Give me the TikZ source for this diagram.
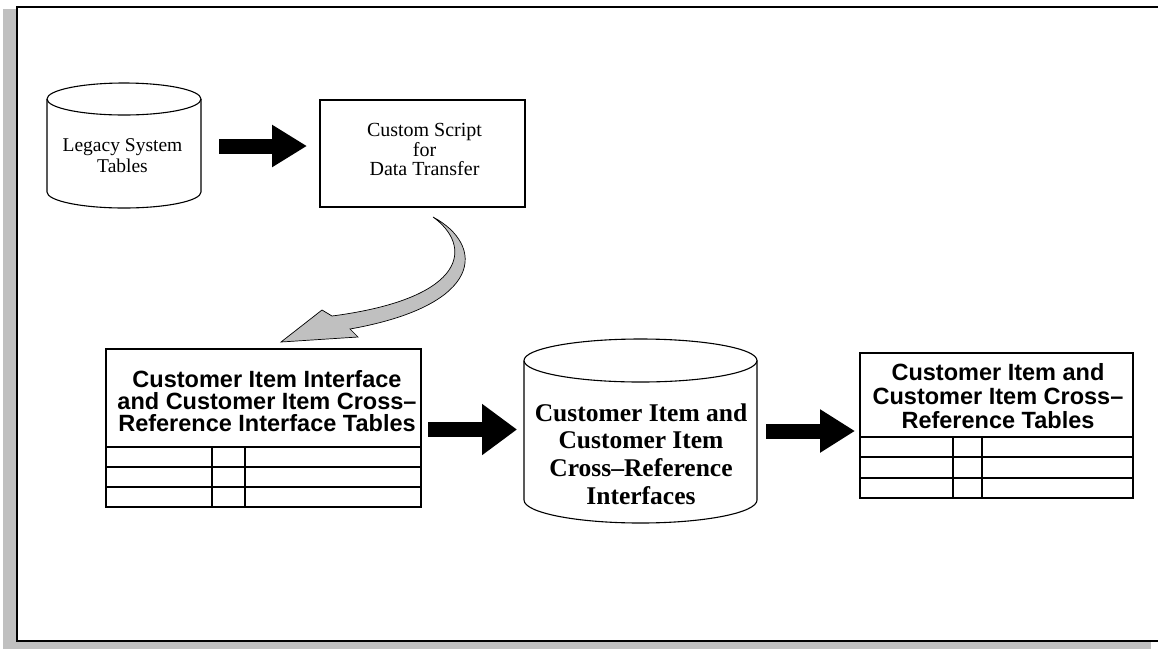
\documentclass[tikz,border=0pt]{standalone}
\usepackage{fontspec}
\setmainfont{Liberation Serif}
\setsansfont{Liberation Sans}
\usetikzlibrary{arrows.meta,calc}
\definecolor{shadowgray}{RGB}{192,192,192}
\begin{document}
\begin{tikzpicture}[x=1pt,y=-1pt,
  blockarrow/.style={line width=15pt,-{Triangle[length=35pt,width=#1]}},
  blockarrow/.default=40pt,
  cyl/.style={line width=1.1pt},
  tbl/.style={line width=1.2pt},
  serifsmall/.style={font=\fontsize{19.5}{20.5}\selectfont,align=center,inner sep=0pt},
  seriftitle/.style={font=\bfseries\fontsize{25.5}{27.7}\selectfont,align=center,inner sep=0pt},
  sanstitle/.style={font=\sffamily\bfseries\fontsize{23.5}{#1}\selectfont,align=center,inner sep=0pt},
  box/.style={inner sep=0pt,outer sep=0pt}]
\useasboundingbox (0,0) rectangle (1158,649);
% shadow and frame
\fill[shadowgray] (3,9) rectangle (1151,649);
\fill[white] (17,7) rectangle (1158,641);
\draw[line width=2pt,line cap=rect] (1158,7) -- (17,7) -- (17,641) -- (1158,641);

% Legacy cylinder
\node[box,minimum width=154pt,minimum height=125pt] (legacy) at (124,146) {};
\draw[cyl,fill=white] (124,99) ellipse (77pt and 16pt);
\draw[cyl] (47,99) -- (47,192) arc[start angle=180,end angle=360,x radius=77pt,y radius=16pt] -- (201,99);
\node[serifsmall] (legacytxt) at (122.5,155.5) {Legacy System\\Tables};

% Custom script box
\node[draw,line width=2pt,minimum width=205pt,minimum height=107pt,box] (script) at (422.5,153.5) {};
\node[serifsmall,font=\fontsize{20}{19.5}\selectfont] (scripttxt) at (424.5,149.5) {Custom Script\\for\\Data Transfer};

% Left table
\node[draw,tbl,box,minimum width=315pt,minimum height=158pt] (lt) at (263.5,428) {};
\draw[tbl] (106,447) -- (421,447);
\draw[tbl] (106,467) -- (421,467);
\draw[tbl] (106,487) -- (421,487);
\draw[tbl] (212,447) -- (212,507);
\draw[tbl] (245,447) -- (245,507);
\node[sanstitle=21.8] (lttxt) at (267,401) {Customer Item Interface\\and Customer Item Cross–\\Reference Interface Tables};

% Middle cylinder
\node[box,minimum width=233pt,minimum height=184pt] (mid) at (640.5,431) {};
\draw[cyl,fill=white] (640.5,360.5) ellipse (116.5pt and 21.5pt);
\draw[cyl] (524,360.5) -- (524,500) arc[start angle=180,end angle=360,x radius=116.5pt,y radius=23pt] -- (757,360.5);
\node[seriftitle] (midtxt) at (641,454) {Customer Item and\\Customer Item\\Cross–Reference\\Interfaces};

% Right table
\node[draw,tbl,box,minimum width=273pt,minimum height=145pt] (rt) at (996.5,425.5) {};
\draw[tbl] (860,437) -- (1133,437);
\draw[tbl] (860,457) -- (1133,457);
\draw[tbl] (860,478) -- (1133,478);
\draw[tbl] (953,437) -- (953,498);
\draw[tbl] (982,437) -- (982,498);
\node[sanstitle=24] (rttxt) at (998,396.5) {Customer Item and\\Customer Item Cross–\\Reference Tables};

% block arrows
\coordinate (ya) at (0,146);
\coordinate (yb) at (0,429.5);
\coordinate (yc) at (0,431);
\draw[blockarrow,shorten <=18pt,shorten >=13pt] (legacy.east |- ya) -- (script.west |- ya);
\draw[blockarrow=49pt,shorten <=7pt,shorten >=7pt] (lt.east |- yb) -- (mid.west |- yb);
\draw[blockarrow=41pt,shorten <=9pt,shorten >=5pt] (mid.east |- yc) -- (rt.west |- yc);

% curved gray arrow from script to left table
\coordinate (cs) at (433,217);
\coordinate (ct) at (281,342);
\filldraw[fill=shadowgray,draw=black,line width=0.7pt]
  (cs) .. controls (485,245) and (485,305) .. (350,329)
  -- (358,337) -- (ct) -- (322,310) -- (332,316)
  .. controls (470,298) and (472,245) .. (cs) -- cycle;
\end{tikzpicture}
\end{document}
